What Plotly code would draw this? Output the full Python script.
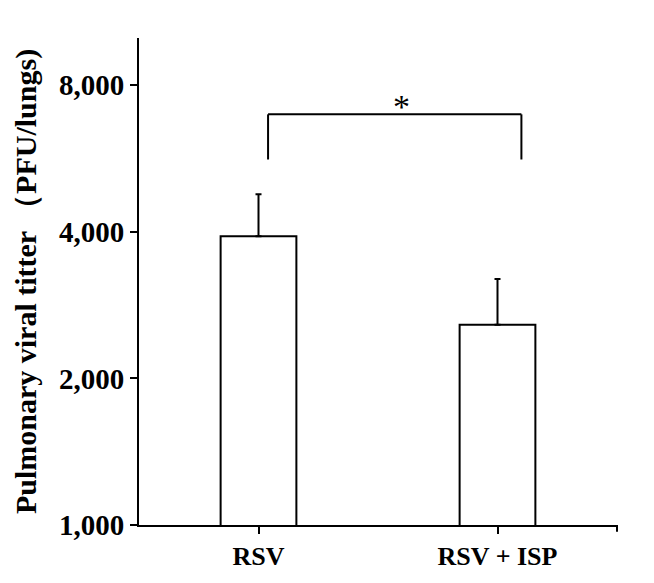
import math
import plotly.graph_objects as go

categories = ["RSV", "RSV + ISP"]
means = [3917, 2577]
errors = [858, 623]
y_ticks = [1000, 2000, 4000, 8000]
y_tick_labels = ["1,000", "2,000", "4,000", "8,000"]
bracket_y = 6970
bracket_drop = 5630
sig_label = "*"

FONT = "Times New Roman, Liberation Serif, serif"

fig = go.Figure()
fig.add_trace(go.Bar(
    x=[0, 1], y=means, width=0.317,
    marker=dict(color="white", line=dict(color="black", width=2)),
    error_y=dict(type="data", array=errors, symmetric=False, arrayminus=[0, 0],
                 color="black", thickness=2, width=3),
))

# significance bracket
bx0, bx1 = 0.04, 1.1
fig.add_shape(type="line", xref="x", yref="y", x0=bx0, x1=bx1, y0=bracket_y, y1=bracket_y,
              line=dict(color="black", width=2))
fig.add_shape(type="line", xref="x", yref="y", x0=bx0, x1=bx0, y0=bracket_y, y1=bracket_drop,
              line=dict(color="black", width=2))
fig.add_shape(type="line", xref="x", yref="y", x0=bx1, x1=bx1, y0=bracket_y, y1=bracket_drop,
              line=dict(color="black", width=2))
fig.add_annotation(x=(bx0 + bx1) / 2 + 0.03, y=math.log10(bracket_y), xref="x", yref="y",
                   text=sig_label, showarrow=False, yanchor="bottom", yshift=-13,
                   font=dict(family=FONT, size=34, color="black"))
# end tick on x axis
fig.add_shape(type="line", xref="paper", yref="paper", x0=1, x1=1, y0=0, y1=-0.014,
              line=dict(color="black", width=2))

fig.update_layout(
    width=654, height=583,
    margin=dict(l=139, r=37, t=38, b=56),
    plot_bgcolor="white", paper_bgcolor="white",
    showlegend=False,
    font=dict(family=FONT, color="black"),
    xaxis=dict(
        range=[-0.5, 1.5], tickvals=[0, 1], ticktext=categories,
        showline=True, linecolor="black", linewidth=2,
        ticks="outside", ticklen=7, tickwidth=2, tickcolor="black",
        tickfont=dict(family=FONT, size=26, color="black", weight="bold"),
        showgrid=False, zeroline=False,
    ),
    yaxis=dict(
        type="log", range=[3, 4],
        tickvals=y_ticks, ticktext=y_tick_labels,
        showline=True, linecolor="black", linewidth=2,
        ticks="outside", ticklen=7, tickwidth=2, tickcolor="black",
        tickfont=dict(family=FONT, size=29, color="black", weight="bold"),
        showgrid=False, zeroline=False,
        title=dict(text="Pulmonary viral titter （PFU/lungs)",
                   font=dict(family=FONT, size=30, color="black", weight="bold"),
                   standoff=13),
    ),
)

fig.write_html("out.html")
